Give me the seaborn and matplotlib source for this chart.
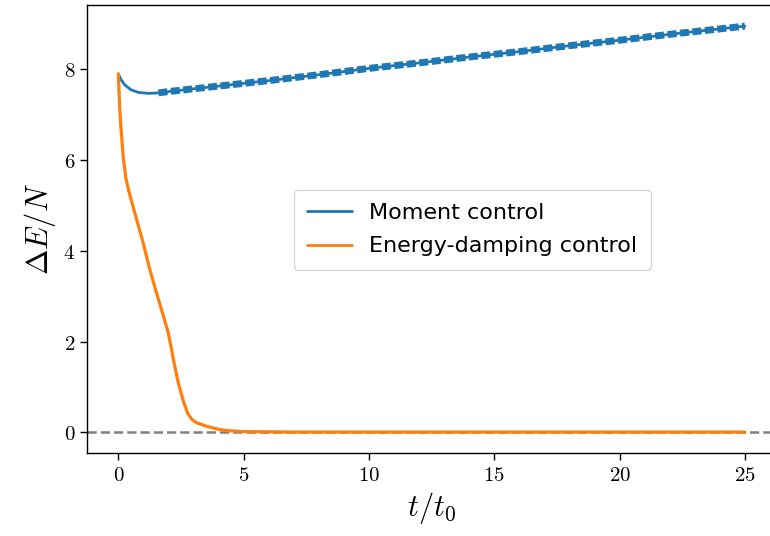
import numpy as np
import pandas as pd
import matplotlib
matplotlib.use("Agg")
import matplotlib.pyplot as plt
import seaborn as sns
from matplotlib.ticker import FuncFormatter

sns.set_theme(style="ticks")
plt.rcParams['font.family'] = ['DejaVu Sans']
plt.rcParams['mathtext.fontset'] = 'cm'
plt.rcParams['text.color'] = 'black'
plt.rcParams['axes.labelcolor'] = 'black'
plt.rcParams['xtick.color'] = 'black'
plt.rcParams['ytick.color'] = 'black'

# Moment control
t_moment = [0.0, 0.1, 0.25, 0.5, 0.8, 1.2, 1.6, 2.0, 3, 4, 5, 6, 8, 10, 12, 14, 16, 18, 20, 22, 24, 25]
e_moment = [7.90, 7.78, 7.66, 7.55, 7.49, 7.47, 7.48, 7.51, 7.57, 7.63, 7.69, 7.75, 7.88, 8.02, 8.14, 8.27, 8.39, 8.52, 8.64, 8.77, 8.89, 8.95]

# Energy-damping control
t_energy = [0.0, 0.05, 0.1, 0.19, 0.3, 0.45, 0.7, 0.98, 1.25, 1.5, 1.78, 1.98, 2.1, 2.2, 2.38, 2.6, 2.77, 2.95, 3.1, 3.5, 4.0, 4.37, 5, 7, 10, 15, 20, 25]
e_energy = [7.90, 7.20, 6.75, 6.10, 5.60, 5.25, 4.75, 4.20, 3.60, 3.12, 2.60, 2.22, 1.90, 1.60, 1.12, 0.68, 0.42, 0.28, 0.22, 0.14, 0.07, 0.04, 0.02, 0.01, 0.01, 0.01, 0.01, 0.01]

df_m = pd.DataFrame({"t": t_moment, "E": e_moment})
df_e = pd.DataFrame({"t": t_energy, "E": e_energy})

fig = plt.figure(figsize=(7.7, 5.36), dpi=100)
ax = fig.add_axes([0.113, 0.155, 0.895, 0.836])

blue = "#1f77b4"
orange = "#ff7f0e"

sns.lineplot(data=df_m, x="t", y="E", ax=ax, color=blue, lw=2.0, label="Moment control", estimator=None)
df_m_late = df_m[df_m["t"] >= 1.6]
sns.lineplot(data=df_m_late, x="t", y="E", ax=ax, color=blue, lw=5.0, estimator=None,
             legend=False)
ax.lines[-1].set_dashes([1.3, 0.5])
ax.lines[-1].set_dash_capstyle("butt")
sns.lineplot(data=df_e, x="t", y="E", ax=ax, color=orange, lw=2.3, label="Energy-damping control", estimator=None)
ax.axhline(0, color="gray", ls="--", lw=1.8, zorder=0)

ax.set_xlim(-1.25, 26.25)
ax.set_ylim(-0.45, 9.42)
ax.set_xticks([0, 5, 10, 15, 20, 25])
ax.set_yticks([0, 2, 4, 6, 8])
fmt = FuncFormatter(lambda v, p: f"${v:g}$")
ax.xaxis.set_major_formatter(fmt)
ax.yaxis.set_major_formatter(fmt)
ax.tick_params(labelsize=15, length=5, width=1, direction="out", colors="black")
for s in ax.spines.values():
    s.set_color("black")
    s.set_linewidth(1.0)

ax.set_xlabel(r"$t/t_0$", fontsize=22, color="black")
ax.set_ylabel(r"$\Delta E/N$", fontsize=22, color="black")

handles, labels = ax.get_legend_handles_labels()
keep = [i for i, l in enumerate(labels) if l in ("Moment control", "Energy-damping control")]
leg = ax.legend([handles[i] for i in keep], [labels[i] for i in keep],
                loc="center", bbox_to_anchor=(0.559, 0.498), fontsize=16,
                frameon=True, fancybox=True, handlelength=2.0, borderpad=0.6, labelspacing=0.6)
for h in leg.get_lines():
    h.set_linewidth(2.0)
for tx in leg.get_texts():
    tx.set_color("black")

fig.savefig("out.png", dpi=100)
